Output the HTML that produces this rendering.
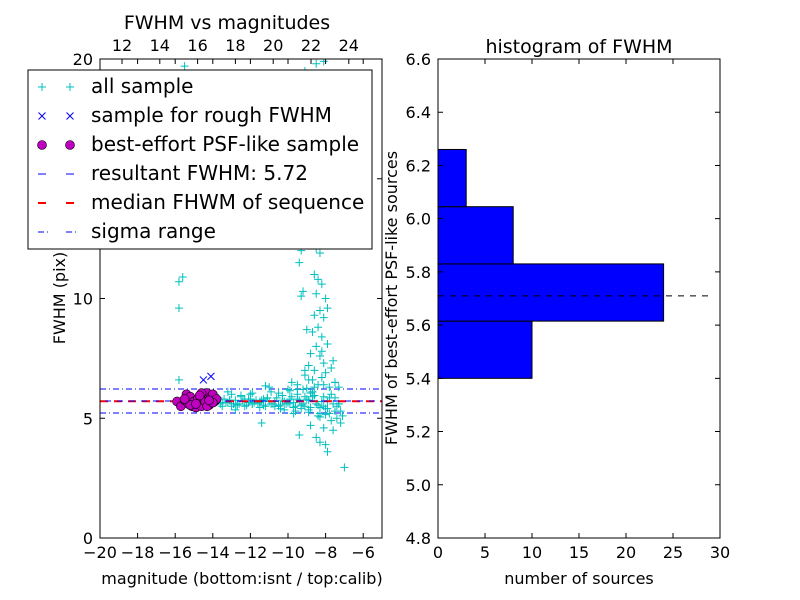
<!DOCTYPE html>
<html><head><meta charset="utf-8"><style>
body{margin:0;background:#fff;}
svg{display:block;font-family:"DejaVu Sans","Liberation Sans",sans-serif;}
</style></head><body>
<svg id="c" width="800" height="600" viewBox="0 0 800 600"></svg>
<script>
// scatter data (magnitude, FWHM)
const allMag=[-15.8,-15.6,-15.8,-15.8,-15.5,-8.5,-8.1,-9.1,
-9.3,-9.4,-9.2,-9.3,-8.7,-8.5,-8.3,-8.6,-8.4,-8.2,-8.5,-8.0,-8.3,-8.6,-8.1,-7.9,-8.4,-8.7,-9.0,-8.2,-7.9,-8.5,-8.8,-8.3,-7.6,-8.1,-9.1,-8.6,-8.0,-7.5,-8.9,-8.4,-7.8,-9.5,-8.7,
-11.4,-9.4,-8.5,-8.0,-7.9,-7.0,-8.3,-7.6,-7.2,-8.8,-8.1,-7.7,-7.4,
-13.8,-13.6,-13.4,-13.2,-13.0,-12.8,-12.6,-12.4,-12.2,-12.0,-11.8,-11.6,-11.4,-11.2,-11.0,-10.8,-10.6,-10.4,-10.2,-10.0,-9.8,-9.6,-9.4,-9.2,-9.0,-8.8,-8.6,-8.4,-8.2,-8.0,-7.8,-7.6,-7.4,-7.2,
-13.7,-13.5,-13.3,-13.1,-12.9,-12.7,-12.5,-12.3,-12.1,-11.9,-11.7,-11.5,-11.3,-11.1,-10.9,-10.7,-10.5,-10.3,-10.1,-9.9,-9.7,-9.5,-9.3,-9.1,-8.9,-8.7,-8.5,-8.3,-8.1,-7.9,-7.7,-7.5,-7.3,
-13.9,-13.0,-12.5,-11.9,-11.5,-10.9,-10.4,-9.9,-9.6,-9.2,-8.9,-8.6,-8.4,-8.1,-7.8,-7.5,-7.1,-10.2,-9.0,-8.3,-12.8,-11.2,-9.7,-8.8,-8.0,
-12.0,-10.5,-9.5,-8.7,-8.2,-7.3,-13.2,-11.0,-9.8,-9.1,
-13.5,-13.1,-12.7,-12.3,-11.9,-11.5,-11.1,-10.7,-10.3,-9.9,-9.5,-9.1,-8.7,-8.3,-7.9,-7.5,
-12.9,-12.1,-11.3,-10.5,-9.7,-8.9,-8.1,-7.3,-10.0,-9.3,-8.6,-8.9,-8.2,-7.7];
const allFwhm=[10.7,10.9,9.6,6.6,19.7,19.8,19.9,19.5,
12.0,11.5,10.3,10.1,12.3,12.1,11.9,11.0,10.8,10.6,10.2,10.0,9.5,9.3,9.2,9.6,8.8,8.6,8.7,8.4,8.1,8.0,7.7,7.6,7.4,7.3,7.0,7.0,6.9,6.5,6.6,6.4,6.3,6.2,6.1,
4.8,4.3,4.2,3.9,3.6,2.95,4.0,4.5,4.8,4.7,4.6,4.9,5.0,
5.7,5.6,5.8,5.65,5.5,5.75,5.6,5.7,5.55,5.8,5.65,5.6,5.75,5.5,5.7,5.6,5.85,5.55,5.7,5.65,5.9,5.5,5.75,5.6,5.8,5.45,5.95,5.55,5.7,5.4,5.85,5.6,5.5,5.3,
5.85,5.5,5.65,5.75,5.6,5.55,5.9,5.5,5.8,5.6,5.75,5.65,5.55,5.85,5.6,5.7,5.5,5.95,5.6,5.8,5.45,6.0,5.55,5.9,5.35,6.1,5.6,5.2,5.9,5.4,6.0,5.3,5.6,
5.9,6.0,5.95,6.05,5.45,6.1,5.4,6.15,5.3,6.2,5.25,6.3,5.1,6.4,5.2,6.5,5.1,5.35,6.25,5.05,5.35,6.35,5.2,6.05,5.15,
6.0,6.05,6.4,6.6,6.7,6.3,6.1,6.3,6.5,6.8,
5.65,5.75,5.55,5.8,5.6,5.7,5.85,5.5,5.75,5.6,5.8,5.5,5.9,5.45,5.7,5.85,
5.6,5.65,5.8,5.55,5.65,5.75,5.5,5.6,6.2,5.4,5.95,7.2,7.8,7.1];
const psfMag=[-15.9,-15.7,-15.5,-15.4,-15.3,-15.2,-15.1,-15.0,-14.9,-14.8,-14.7,-14.6,-14.5,-14.4,-14.3,-14.2,-14.1,-14.0,-13.9,-13.8,-15.2,-14.9,-14.6,-14.3,-14.0,-15.5,-14.7,-14.2];
const psfFwhm=[5.7,5.5,5.75,6.0,5.6,5.9,5.5,5.7,5.45,5.8,5.6,5.5,5.85,5.7,6.05,5.55,5.9,6.0,5.7,5.8,5.55,5.6,6.05,5.5,5.65,5.8,5.95,5.75];
const roughMag=[-14.5,-14.1,-15.0,-14.4,-14.0];
const roughFwhm=[6.6,6.75,5.7,5.8,5.9];
const resultFwhm=5.72, medianFwhm=5.71, sigmaLo=5.22, sigmaHi=6.22;
// histogram
const binEdges=[5.40,5.615,5.83,6.045,6.26];
const binCounts=[10,24,8,3];
const histMedian=5.71;
const leftXTicks=[-20,-18,-16,-14,-12,-10,-8,-6];
const leftYTicks=[0,5,10,15,20];
const topTicks=[12,14,16,18,20,22,24];
const rightXTicks=[0,5,10,15,20,25,30];
const rightYTicks=[4.8,5.0,5.2,5.4,5.6,5.8,6.0,6.2,6.4,6.6];

const NS="http://www.w3.org/2000/svg";
const svg=document.getElementById('c');
function el(t,a,p){const e=document.createElementNS(NS,t);for(const k in a)e.setAttribute(k,a[k]);(p||svg).appendChild(e);return e;}
function txt(s,a,p){const e=el('text',a,p);e.textContent=s;return e;}
// left axes
const L={x0:100,x1:382,y0:538,y1:59};
const lx=m=>L.x0+(m+20)/15*(L.x1-L.x0);
const ly=f=>L.y0-f/20*(L.y0-L.y1);
const tx=v=>122+(v-12)*18.9;
const gL=el('g',{});


el('rect',{x:L.x0,y:L.y1,width:L.x1-L.x0,height:L.y0-L.y1,fill:'#fff',stroke:'none'},gL);
const clip=el('clipPath',{id:'clipL'},gL);el('rect',{x:L.x0,y:L.y1,width:L.x1-L.x0,height:L.y0-L.y1},clip);
const data=el('g',{'clip-path':'url(#clipL)'},gL);
[sigmaLo,sigmaHi].forEach(v=>{const l=el('line',{x1:L.x0,x2:L.x1,y1:ly(v),y2:ly(v),stroke:'#00f','stroke-width':1,'stroke-dasharray':'6,3,1,3'},data);

});
const all=el('g',{stroke:'#00bfbf','stroke-width':1},data);


allMag.forEach((m,i)=>{const x=lx(m),y=ly(allFwhm[i]);el('path',{d:`M${x-4},${y}H${x+4}M${x},${y-4}V${y+4}`},all);});
const ml=el('line',{x1:L.x0,x2:L.x1,y1:ly(medianFwhm),y2:ly(medianFwhm),stroke:'#f00','stroke-width':2,'stroke-dasharray':'8,6'},data);


const rl=el('line',{x1:L.x0,x2:L.x1,y1:ly(resultFwhm),y2:ly(resultFwhm),stroke:'#00f','stroke-width':1,'stroke-dasharray':'6,6','stroke-dashoffset':7},data);


const rg=el('g',{stroke:'#00f','stroke-width':1},data);


roughMag.forEach((m,i)=>{const x=lx(m),y=ly(roughFwhm[i]);el('path',{d:`M${x-3.5},${y-3.5}L${x+3.5},${y+3.5}M${x-3.5},${y+3.5}L${x+3.5},${y-3.5}`},rg);});
const pg=el('g',{fill:'#bf00bf',stroke:'#000','stroke-width':0.6},data);


psfMag.forEach((m,i)=>el('circle',{cx:lx(m),cy:ly(psfFwhm[i]),r:4.5},pg));
el('rect',{x:L.x0,y:L.y1,width:L.x1-L.x0,height:L.y0-L.y1,fill:'none',stroke:'#000'},gL);
const ax=el('g',{'font-size':16,fill:'#000'},gL);
leftXTicks.forEach(v=>{const x=lx(v);el('path',{d:`M${x},${L.y0}v-5M${x},${L.y1}v5`,stroke:'#000'},ax);txt(v<0?'\u2212'+(-v):v,{x:x,y:L.y0+20,'text-anchor':'middle'},ax);});
leftYTicks.forEach(v=>{const y=ly(v);el('path',{d:`M${L.x0},${y}h5M${L.x1},${y}h-5`,stroke:'#000'},ax);txt(v,{x:L.x0-7,y:y+6,'text-anchor':'end'},ax);});
topTicks.forEach(v=>{const x=tx(v);el('path',{d:`M${x},${L.y1}v5`,stroke:'#000'},ax);txt(v,{x:x,y:L.y1-8,'text-anchor':'middle'},ax);});
txt('FWHM vs magnitudes',{x:227,y:29,'text-anchor':'middle','font-size':19},gL);
txt('magnitude (bottom:isnt / top:calib)',{x:242,y:584,'text-anchor':'middle','font-size':16},gL);
txt('FWHM (pix)',{x:65,y:298,'text-anchor':'middle','font-size':16,transform:'rotate(-90 65 298)'},gL);
// legend
const lg=el('g',{},gL);


el('rect',{x:28,y:70,width:344,height:179,fill:'#fff',stroke:'#000'},lg);
const items=['all sample','sample for rough FWHM','best-effort PSF-like sample','resultant FWHM: 5.72','median FHWM of sequence','sigma range'];
items.forEach((s,i)=>{const y=87+i*29;const x1=42,x2=70;
if(i==0){[x1,x2].forEach(x=>el('path',{d:`M${x-4},${y}H${x+4}M${x},${y-4}V${y+4}`,stroke:'#00bfbf'},lg));}
if(i==1){[x1,x2].forEach(x=>el('path',{d:`M${x-3.5},${y-3.5}L${x+3.5},${y+3.5}M${x-3.5},${y+3.5}L${x+3.5},${y-3.5}`,stroke:'#00f'},lg));}
if(i==2){[x1,x2].forEach(x=>el('circle',{cx:x,cy:y,r:4.5,fill:'#bf00bf',stroke:'#000','stroke-width':0.6},lg));}
if(i==3){[38,66].forEach(x=>el('line',{x1:x,x2:x+8,y1:y,y2:y,stroke:'#00f'},lg));}
if(i==4){[38,66].forEach(x=>el('line',{x1:x,x2:x+8,y1:y,y2:y,stroke:'#f00','stroke-width':2},lg));}
if(i==5){el('path',{d:`M38,${y}h6M47,${y}h1M66,${y}h6M75,${y}h1`,stroke:'#00f'},lg);}
const t=txt(s,{x:91,y:y+6,'font-size':20},lg);

});
// right histogram
const R={x0:438,x1:720,y0:538,y1:59};
const rx=c=>R.x0+c/30*(R.x1-R.x0);
const ry=f=>R.y0-(f-4.8)/1.8*(R.y0-R.y1);
const gR=el('g',{});


binCounts.forEach((c,i)=>{const b=el('rect',{x:rx(0),y:ry(binEdges[i+1]),width:rx(c)-rx(0),height:ry(binEdges[i])-ry(binEdges[i+1]),fill:'#00f',stroke:'#000'},gR);

});
const hm=el('line',{x1:rx(0),x2:rx(29),y1:ry(histMedian),y2:ry(histMedian),stroke:'#000','stroke-dasharray':'6,6'},gR);


el('rect',{x:R.x0,y:R.y1,width:R.x1-R.x0,height:R.y0-R.y1,fill:'none',stroke:'#000'},gR);
const ar=el('g',{'font-size':16},gR);
rightXTicks.forEach(v=>{const x=rx(v);el('path',{d:`M${x},${R.y0}v-5M${x},${R.y1}v5`,stroke:'#000'},ar);txt(v,{x:x,y:R.y0+20,'text-anchor':'middle'},ar);});
rightYTicks.forEach(v=>{const y=ry(v);el('path',{d:`M${R.x0},${y}h5M${R.x1},${y}h-5`,stroke:'#000'},ar);txt(v.toFixed(1),{x:R.x0-7,y:y+6,'text-anchor':'end'},ar);});
txt('histogram of FWHM',{x:579,y:53,'text-anchor':'middle','font-size':19},gR);
txt('number of sources',{x:579,y:584,'text-anchor':'middle','font-size':16},gR);
txt('FWHM of best-effort PSF-like sources',{x:397,y:298,'text-anchor':'middle','font-size':16,transform:'rotate(-90 397 298)'},gR);
</script>
</body></html>
